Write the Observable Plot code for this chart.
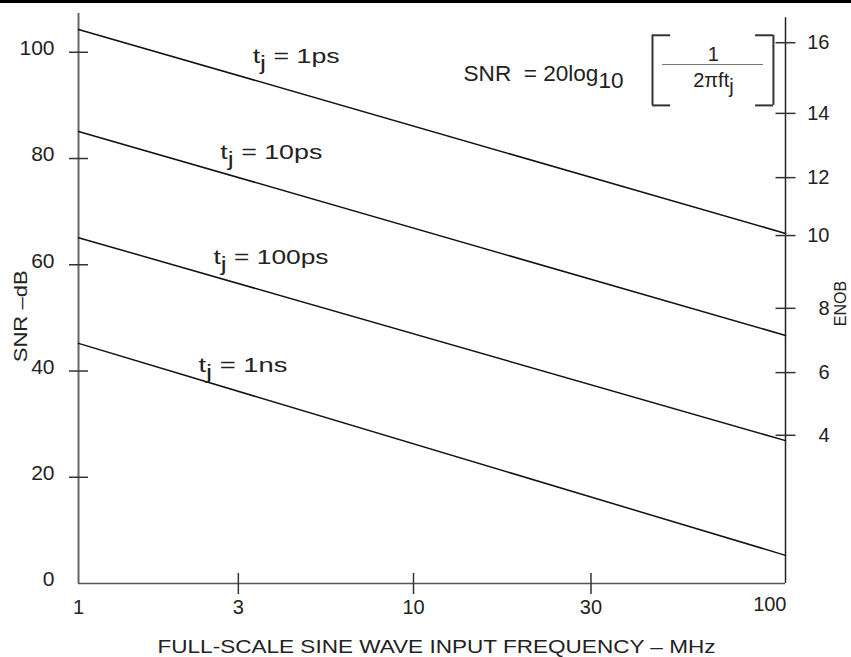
<!DOCTYPE html>
<html><head><meta charset="utf-8">
<script src="https://cdn.jsdelivr.net/npm/d3@7"></script>
<script src="https://cdn.jsdelivr.net/npm/@observablehq/plot@0.6"></script>
<style>
body{margin:0;background:#fff;}
#chart{width:851px;border-top:3px solid #000;}
svg{display:block;}
</style></head><body><div id="chart"></div>
<script>
// ---- data ----
const jitterLabels = ["t_j = 1ps", "t_j = 10ps", "t_j = 100ps", "t_j = 1ns"];
const freqEnds = [1, 100];                       // MHz
const snrAt1MHz = [104.3, 85.1, 65.1, 45.2];     // dB
const snrAt100MHz = [65.9, 46.7, 26.9, 5.3];     // dB
const snrTicks = [0, 20, 40, 60, 80, 100];
const freqTicks = [1, 3, 10, 30, 100];
const enobTicks = [4, 6, 8, 10, 12, 14, 16];
const enobTickDb = [27.9, 39.7, 51.8, 65.5, 76.4, 88.5, 101.8];
const labelFreq = [3.31, 2.65, 2.53, 2.28];
const labelDb = [99.2, 81.1, 61.4, 41.0];
// formula annotation (chart units)
const formulaText = ["SNR  = 20log_10", "1", "2πft_j"];
const formulaFreq = [13.63, 64.0, 64.0];
const formulaDb = [96.0, 99.6, 94.7];
const bracketF = [43.9, 49.1, 83.1, 92.8];
const bracketDb = [90.0, 103.2];
const fracBar = {f1: 46.7, f2: 87.3, db: 97.7};
// axis title anchors (chart units)
const yTitleDb = 50.3;
const enobTitleDb = 52.7;

const rows = jitterLabels.flatMap((s, i) => [
  {series: s, f: freqEnds[0], snr: snrAt1MHz[i]},
  {series: s, f: freqEnds[1], snr: snrAt100MHz[i]}
]);
const labels = jitterLabels.map((s, i) => ({text: s, f: labelFreq[i], db: labelDb[i]}));
const enob = enobTicks.map((e, i) => ({e, db: enobTickDb[i]}));
const formula = formulaText.map((t, i) => ({t, f: formulaFreq[i], db: formulaDb[i]}));

const hTick = {draw(ctx, size) { const l = Math.sqrt(size / Math.PI); ctx.moveTo(-l, 0); ctx.lineTo(l, 0); }};
const vTick = {draw(ctx, size) { const l = Math.sqrt(size / Math.PI); ctx.moveTo(0, -l); ctx.lineTo(0, l); }};

const FONT = "'Liberation Sans', Arial, Helvetica, sans-serif";
const ink = "#222";

const chart = Plot.plot({
  width: 851, height: 654,
  marginLeft: 78, marginRight: 66, marginTop: 10, marginBottom: 74,
  x: {type: "log", domain: [1, 10, 100], range: [78, 413, 785], axis: null},
  y: {domain: [0, 107.3], axis: null},
  style: {fontFamily: FONT, color: ink, background: "white"},
  marks: [
    // axis lines
    Plot.ruleX([1], {y1: 0, y2: 107.3, stroke: "#666", strokeWidth: 2}),
    Plot.ruleX([100], {y1: 0, y2: 106.5, stroke: "#222", strokeWidth: 1.5}),
    Plot.ruleY([0], {x1: 1, x2: 100, stroke: "#555", strokeWidth: 1.6}),
    // ticks
    Plot.dot(snrTicks.filter(d => d > 0), {x: 1, y: d => d, symbol: hTick, r: 9.5, fill: "none", stroke: "#333", strokeWidth: 1.5}),
    Plot.dot(enob, {x: 100, y: "db", symbol: hTick, r: 10, fill: "none", stroke: "#333", strokeWidth: 1.5}),
    Plot.dot(freqTicks.filter(d => d > 1 && d < 100), {x: d => d, y: 0, symbol: vTick, r: 10.5, fill: "none", stroke: "#333", strokeWidth: 1.5}),
    // tick labels
    Plot.text(snrTicks, {x: 1, y: d => d, text: d => String(d), dx: -24, dy: -4, textAnchor: "end", fontSize: 21, fill: ink}),
    Plot.text(enob, {x: 100, y: "db", text: d => String(d.e), dx: 44, textAnchor: "end", fontSize: 20, fill: ink}),
    Plot.text(freqTicks.filter(d => d < 100), {x: d => d, y: 0, text: d => String(d), dy: 24, fontSize: 20, fill: ink}),
    Plot.text([100], {x: d => d, y: 0, text: d => String(d), dy: 21, dx: 1, textAnchor: "end", fontSize: 20, fill: ink}),
    // series
    Plot.line(rows, {x: "f", y: "snr", z: "series", stroke: "#111", strokeWidth: 1.5}),
    Plot.text(labels, {x: "f", y: "db", text: "text", textAnchor: "start", fontSize: 21, fill: ink}),
    // formula
    Plot.text(formula.slice(0, 1), {x: "f", y: "db", text: "t", textAnchor: "start", fontSize: 22, fill: ink}),
    Plot.text(formula.slice(1, 2), {x: "f", y: "db", text: "t", fontSize: 20, fill: ink}),
    Plot.text(formula.slice(2), {x: "f", y: "db", text: "t", fontSize: 20, fill: ink}),
    Plot.ruleX([bracketF[0], bracketF[3]], {y1: bracketDb[0], y2: bracketDb[1], stroke: "#333", strokeWidth: 2}),
    Plot.ruleY(bracketDb, {x1: bracketF[0], x2: bracketF[1], stroke: "#333", strokeWidth: 2}),
    Plot.ruleY(bracketDb, {x1: bracketF[2], x2: bracketF[3], stroke: "#333", strokeWidth: 2}),
    Plot.ruleY([fracBar.db], {x1: fracBar.f1, x2: fracBar.f2, stroke: "#777", strokeWidth: 1.2}),
    // axis titles
    Plot.text(["SNR –dB"], {x: 1, y: yTitleDb, text: d => d, dx: -58, rotate: -90, fontSize: 19, fill: ink}),
    Plot.text(["ENOB"], {x: 100, y: enobTitleDb, text: d => d, dx: 55, rotate: -90, fontSize: 16, fill: ink}),
    Plot.text(["FULL-SCALE SINE WAVE INPUT FREQUENCY – MHz"], {frameAnchor: "bottom", text: d => d, dx: 4.5, dy: 69, fontSize: 19, fill: ink})
  ]
});

document.getElementById("chart").appendChild(chart);

// subscripts ("_x") and horizontal lengths
const lengths = {
  "FULL-SCALE SINE WAVE INPUT FREQUENCY – MHz": 558,
  "SNR –dB": 92,
  "t_j = 1ps": 87, "t_j = 10ps": 102, "t_j = 100ps": 115, "t_j = 1ns": 89,
  "SNR  = 20log_10": 160
};
d3.select(chart).selectAll("text").each(function () {
  const t = this.textContent;
  if (lengths[t]) {
    this.setAttribute("textLength", lengths[t]);
    this.setAttribute("lengthAdjust", "spacingAndGlyphs");
  }
  const k = t.indexOf("_");
  if (k < 0) return;
  const m = t.slice(k + 1).search(/ |$/);
  const base = t.slice(0, k), sub = t.slice(k + 1, k + 1 + m), rest = t.slice(k + 1 + m);
  const el = d3.select(this);
  el.text(null);
  el.append("tspan").text(base);
  el.append("tspan").attr("dy", "0.32em").text(sub);
  if (rest) el.append("tspan").attr("dy", "-0.32em").text(rest);
});
</script></body></html>
